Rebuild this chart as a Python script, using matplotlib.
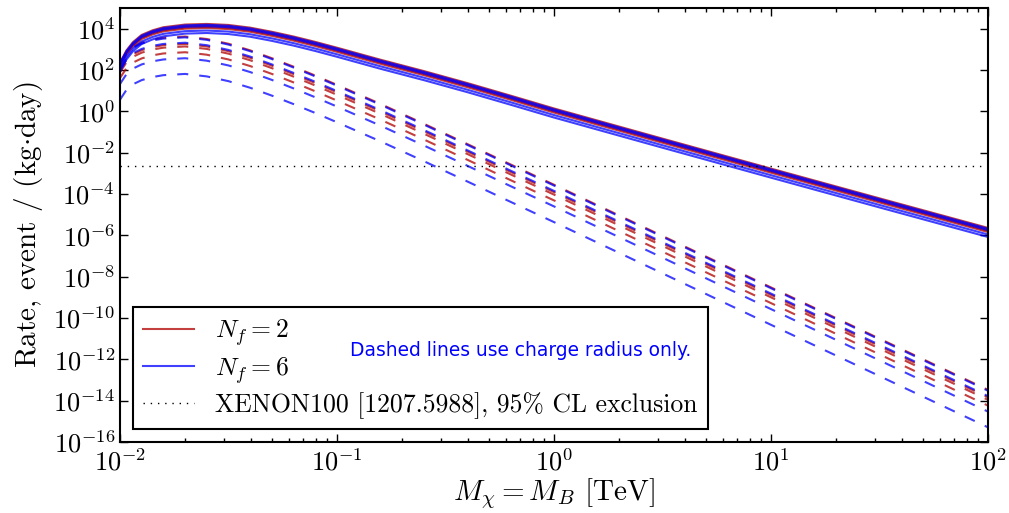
import numpy as np
import matplotlib
matplotlib.use('Agg')
import matplotlib.pyplot as plt
from matplotlib.ticker import NullLocator, LogLocator, NullFormatter

plt.rcParams.update({
    'font.family': 'serif',
    'font.serif': ['cmr10'],
    'mathtext.fontset': 'cm',
    'axes.formatter.use_mathtext': True,
    'font.size': 19,
    'axes.linewidth': 1.5,
})

# log10 of mass [TeV], shared grid for the read-off curves
log_mass = [-2.0, -1.97, -1.94, -1.9, -1.85, -1.8, -1.7, -1.6, -1.5, -1.4, -1.3,
            -1.2, -1.1, -1.0, -0.9, -0.8, -0.6, -0.4, -0.2, 0.0, 0.5, 1.0, 1.5, 2.0]

# log10 rate of the uppermost full (solid) curve
log_rate_full = [2.35, 2.95, 3.35, 3.7, 3.92, 4.07, 4.2, 4.23, 4.18, 4.05, 3.85,
                 3.62, 3.36, 3.08, 2.79, 2.5, 1.95, 1.37, 0.76, 0.14, -1.32, -2.77, -4.21, -5.64]

# log10 rate of the uppermost charge-radius-only (dashed) curve
log_rate_radius = [2.37, 2.85, 3.12, 3.32, 3.47, 3.56, 3.62, 3.5, 3.27, 2.95, 2.57,
                   2.16, 1.73, 1.28, 0.82, 0.36, -0.6, -1.58, -2.57, -3.55, -6.03, -8.52, -11.0, -13.48]

# how far (in decades) each curve sits below the uppermost one
full_drop_nf2 = [0.0, 0.08, 0.14, 0.2]
full_drop_nf6 = [0.04, 0.11, 0.32, 0.44]
radius_drop_nf2 = [0.0, 0.36, 0.48, 0.76]
radius_drop_nf6 = [0.04, 0.30, 1.05, 1.81]

xenon_limit = 2.3e-3

red = '#b00000'
blue = '#0000ff'

mass = 10.0 ** np.array(log_mass)
full = np.array(log_rate_full)
radius = np.array(log_rate_radius)

fig = plt.figure(figsize=(10.09, 5.13), dpi=100)
ax = fig.add_axes([0.1189, 0.1384, 0.8603, 0.846])

dash = (0, (5.3, 5.3))
for i, d in enumerate(full_drop_nf2):
    ax.plot(mass, 10 ** (full - d), color=red, alpha=0.75, lw=1.5,
            label=r'$N_f = 2$' if i == 0 else None)
for d in radius_drop_nf2:
    ax.plot(mass, 10 ** (radius - d), color=red, alpha=0.75, lw=1.5, ls=dash)
for i, d in enumerate(full_drop_nf6):
    ax.plot(mass, 10 ** (full - d), color=blue, alpha=0.75, lw=1.5,
            label=r'$N_f = 6$' if i == 0 else None)
for d in radius_drop_nf6:
    ax.plot(mass, 10 ** (radius - d), color=blue, alpha=0.75, lw=1.5, ls=dash)

ax.axhline(xenon_limit, color='k', lw=1.0, ls=(0, (1, 4.2)),
           label='XENON100 [1207.5988], 95% CL exclusion')

ax.set_xscale('log')
ax.set_yscale('log')
ax.set_xlim(1e-2, 1e2)
ax.set_ylim(1e-16, 1e5)
ax.set_yticks([10.0 ** k for k in range(-16, 5, 2)])
ax.yaxis.set_minor_locator(NullLocator())
ax.xaxis.set_minor_locator(LogLocator(base=10, subs=np.arange(2, 10)))
ax.xaxis.set_minor_formatter(NullFormatter())
ax.tick_params(which='both', direction='in', top=True, right=True)
ax.tick_params(which='major', length=6, width=1, labelsize=19)
ax.tick_params(which='minor', length=3, width=1)
ax.tick_params(axis='x', pad=5)

ax.set_xlabel(r'$M_\chi = M_B$ [TeV]', fontsize=21, labelpad=0)
ax.set_ylabel(r'Rate, event / (kg$\cdot$day)', fontsize=21, labelpad=6)

leg = ax.legend(loc='lower left', fancybox=False, framealpha=1,
                edgecolor='k', handlelength=2, borderaxespad=0.5, fontsize=18.5,
                labelspacing=0.25)
leg.get_frame().set_linewidth(1.5)

ax.text(0.265, 0.21, 'Dashed lines use charge radius only.', transform=ax.transAxes,
        color='blue', family='DejaVu Sans', fontsize=13.4, va='center', zorder=10)

fig.savefig('out.png', dpi=100)
